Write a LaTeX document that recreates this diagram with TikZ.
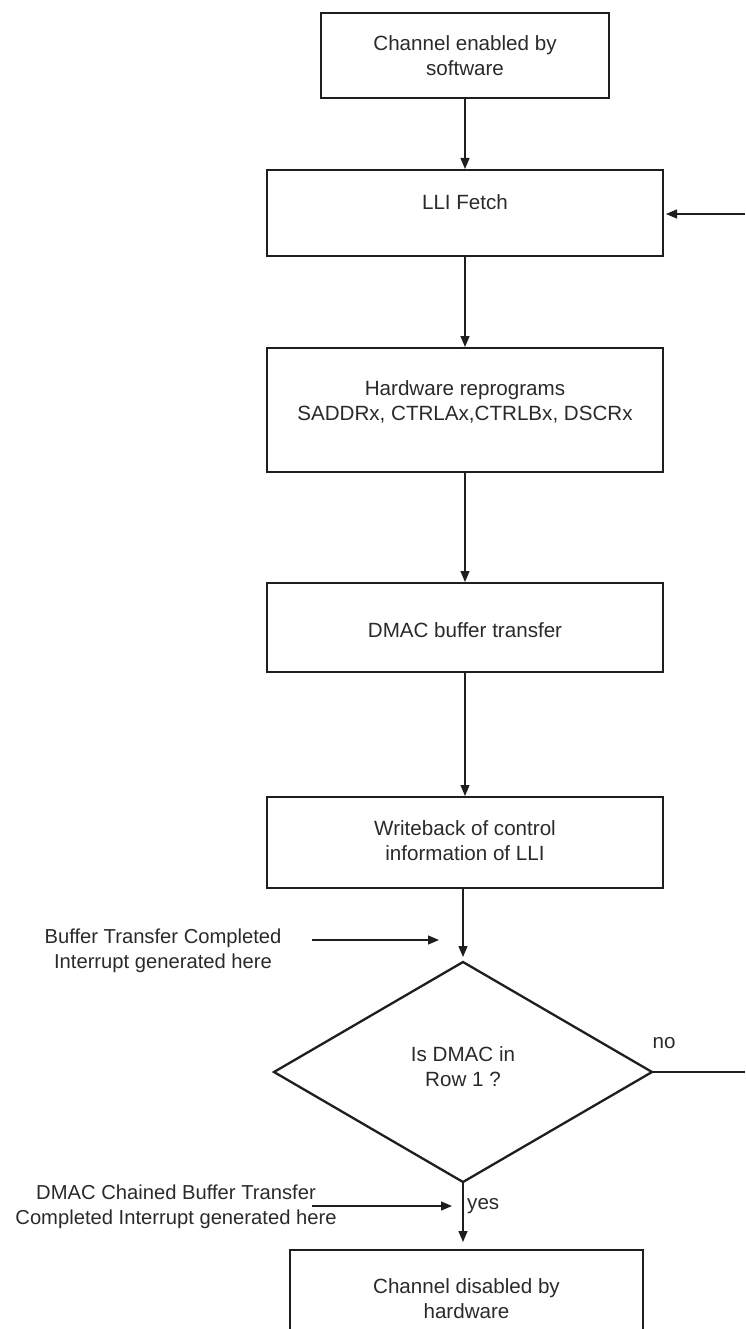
\documentclass[tikz,border=0pt]{standalone}
\usepackage{fontspec}
\setmainfont{Liberation Sans}
\usetikzlibrary{arrows.meta,shapes.geometric}
\definecolor{ink}{HTML}{1E1E1E}
\definecolor{txt}{HTML}{2A2A2A}
\begin{document}
\begin{tikzpicture}[x=1pt,y=-1pt,
  boxnode/.style={draw=ink, line width=2.6pt, inner sep=0pt, outer sep=0pt, rectangle},
  decnode/.style={draw=ink, line width=2.3pt, inner sep=0pt, outer sep=0pt, diamond},
  lbl/.style={text=txt, align=center, inner sep=0pt, font=\fontsize{20.6}{25}\selectfont},
  side/.style={text=txt, align=center, inner sep=0pt, font=\fontsize{20.2}{25}\selectfont},
  conn/.style={draw=ink, line width=1.3pt, -{Triangle[length=11pt,width=9pt]}},
  plain/.style={draw=ink, line width=1.3pt}]
\clip (0,0) rectangle (745,1329);
\useasboundingbox (0,0) rectangle (745,1329);

% boxes
\node[boxnode, minimum width=288pt, minimum height=85pt] (b1) at (465,55.5) {};
\node[boxnode, minimum width=396pt, minimum height=86pt] (b2) at (465,213) {};
\node[boxnode, minimum width=396pt, minimum height=124pt] (b3) at (465,410) {};
\node[boxnode, minimum width=396pt, minimum height=89pt] (b4) at (465,627.5) {};
\node[boxnode, minimum width=396pt, minimum height=91pt] (b5) at (465,842.5) {};
\node[decnode, minimum width=378pt, minimum height=220pt] (d) at (463,1072) {};
\node[boxnode, minimum width=353pt, minimum height=95pt] (b6) at (466.5,1297.5) {};

% texts
\node[lbl] (t1) at (465,55.5) {Channel enabled by\\software};
\node[lbl] (t2) at (465,202) {LLI Fetch};
\node[lbl] (t3) at (465,401.5) {Hardware reprograms\\SADDRx, CTRLAx,CTRLBx, DSCRx};
\node[lbl] (t4) at (465,630) {DMAC buffer transfer};
\node[lbl] (t5) at (465,841) {Writeback of control\\information of LLI};
\node[lbl] (td) at (463,1067) {Is DMAC in\\Row 1 ?};
\node[lbl] (t6) at (466.5,1299) {Channel disabled by\\hardware};

\node[side] (s1) at (163,951) {Buffer Transfer Completed\\Interrupt generated here};
\node[side] (s2) at (176,1207) {DMAC Chained Buffer Transfer\\Completed Interrupt generated here};
\node[lbl, anchor=center] (no) at (664,1043) {no};
\node[lbl, anchor=west] (yes) at (467,1206) {yes};

% free-end coordinates
\coordinate (rin) at (745,214);
\coordinate (rout) at (745,1072);
\coordinate (a1s) at (312,940);
\coordinate (a1e) at (439,940);
\coordinate (a2s) at (312,1206);
\coordinate (a2e) at (452,1206);

% connectors
\draw[conn, shorten >=1pt] (b1.south) -- (b2.north);
\draw[conn, shorten >=3pt] (rin) -- (b2.east |- rin);
\draw[conn, shorten >=1pt] (b2.south) -- (b3.north);
\draw[conn, shorten >=1pt] (b3.south) -- (b4.north);
\draw[conn, shorten >=1pt] (b4.south) -- (b5.north);
\draw[conn, shorten >=5pt] (d.north |- b5.south) -- (d.north);
\draw[plain] (d.east) -- (rout);
\draw[conn, shorten >=8pt] (d.south) -- (d.south |- b6.north);
\draw[conn] (a1s) -- (a1e);
\draw[conn] (a2s) -- (a2e);
\end{tikzpicture}
\end{document}
